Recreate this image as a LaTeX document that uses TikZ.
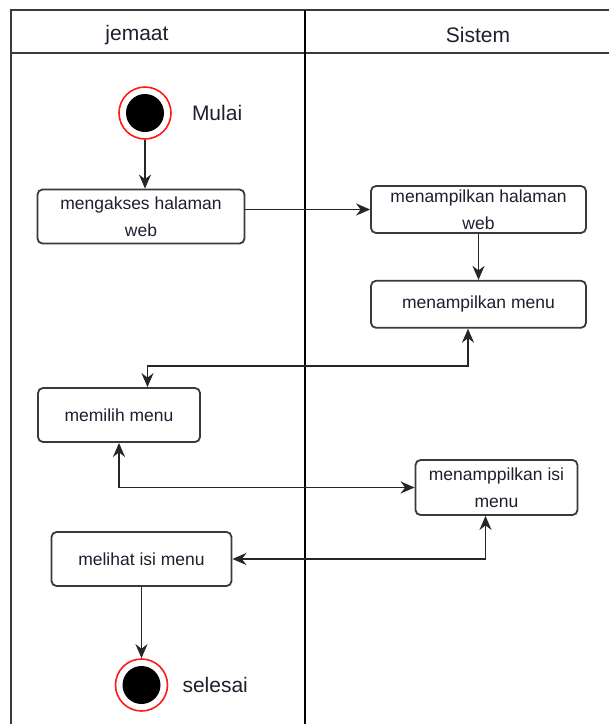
\documentclass[tikz,border=0pt]{standalone}
\usepackage{fontspec}
\setmainfont{Liberation Sans}
\usetikzlibrary{positioning,arrows.meta,calc}
\definecolor{garis}{HTML}{3A3A3A}
\definecolor{merah}{HTML}{FF1A1A}
\definecolor{teks}{HTML}{1E1E2E}

\begin{document}
\begin{tikzpicture}[x=1pt, y=-1pt, font=\fontsize{17.5}{27}\selectfont,
      >={Stealth[length=14pt, width=12pt, inset=4.5pt]},
      akt/.style={draw=garis, rounded corners=5pt, line width=1.8pt, align=center,
                  inner sep=2pt, text=teks},
      ttk/.style={circle, draw=merah, line width=1.6pt, fill=white, minimum size=52pt,
                  path picture={\fill[black] (path picture bounding box.center) circle (19pt);}},
      ket/.style={inner sep=0pt, font=\fontsize{21}{25}\selectfont, text=teks},
      alur/.style={line width=1.8pt, draw=black!85}]
    \useasboundingbox (0,0) rectangle (609,724);
    % lajur
    \draw[garis, line width=2.2pt] (11,724) -- (11,10) -- (609,10);
    \draw[garis, line width=2.2pt] (11,53) -- (609,53);
    \draw[black, line width=1.8pt] (305,10) -- (305,724);
    \node[ket] (jemaat) at (137,35) {jemaat};
    \node[ket] (sistem) at (478,35) {Sistem};
    % jemaat
    \node[ttk] (mulai) at (145,113) {};
    \node[ket, right=20pt of mulai] (lblmulai) {Mulai};
    \node[akt, minimum width=207pt, minimum height=54pt] (akses) at (141,216.5) {mengakses halaman\\web};
    \node[akt, minimum width=162pt, minimum height=54pt] (pilih) at (119,415) {memilih menu};
    \node[akt, minimum width=180pt, minimum height=54pt] (lihat) at (141.5,559) {melihat isi menu};
    \node[ttk] (selesai) at (141.5,685) {};
    \node[ket, right=14pt of selesai] (lblselesai) {selesai};
    % sistem
    \node[akt, minimum width=215pt, minimum height=47pt] (tampil) at (478.5,209.5) {menampilkan halaman\\web};
    \node[akt, minimum width=215pt, minimum height=47pt, below=46pt of tampil] (menu) {menampilkan menu};
    \node[akt, minimum width=162pt, minimum height=55pt] (isi) at (496.5,487.5) {menamppilkan isi\\menu};
    % alur
    \coordinate (k1) at (468,366);
    \draw[->, alur] (mulai.south -| 145,0) -- (akses.north -| 145,0);
    \draw[->, alur] (tampil.west -| akses.east) -- (tampil.west);
    \draw[->, alur] (tampil) -- (menu);
    \draw[<->, alur] (menu.south -| k1) -- (k1) -| ([xshift=28.5pt]pilih.north);
    \draw[<->, alur] (pilih.south) |- (isi.west);
    \draw[<->, alur] ([xshift=-11pt]isi.south) |- (lihat.east);
    \draw[->, alur] (lihat) -- (selesai);
\end{tikzpicture}
\end{document}
